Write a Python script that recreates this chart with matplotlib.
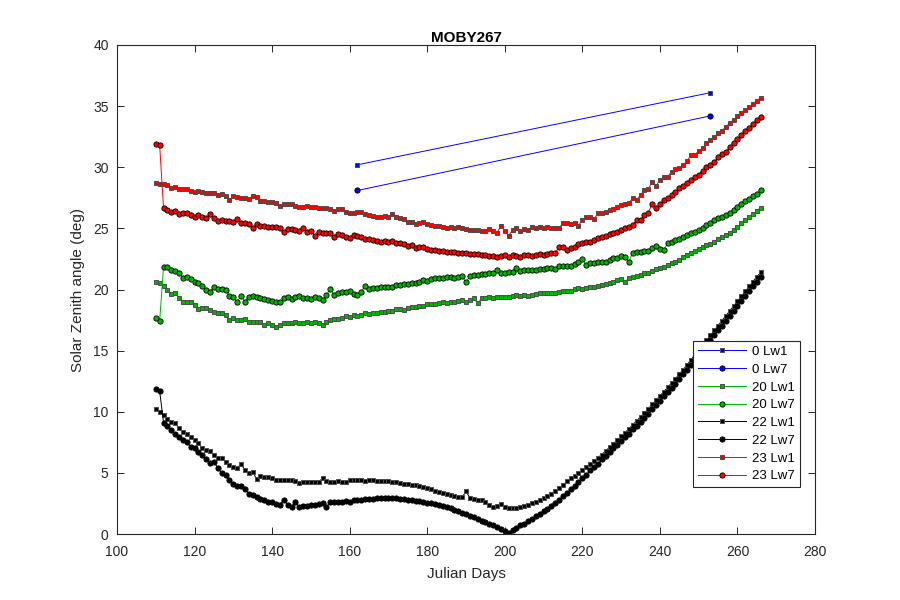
import numpy as np
import matplotlib
matplotlib.use("Agg")
import matplotlib.pyplot as plt

plt.rcParams['font.family'] = ['Liberation Sans', 'DejaVu Sans']

# ---------------- data ----------------
days = list(range(110, 267))

blue_days = [162, 253]
blue_lw1 = [30.2, 36.1]
blue_lw7 = [28.1, 34.2]

green_lw1 = [
    20.64, 20.50, 20.32, 19.96, 19.60, 19.74, 19.28, 19.00, 19.00, 19.00,
    18.73, 18.38, 18.46, 18.46, 18.32, 18.19, 18.05, 18.05, 17.91, 17.50,
    17.64, 17.50, 17.50, 17.59, 17.37, 17.37, 17.37, 17.37, 17.10, 17.23,
    17.10, 16.90, 17.10, 17.29, 17.29, 17.29, 17.37, 17.29, 17.29, 17.37,
    17.23, 17.37, 17.23, 17.10, 17.37, 17.50, 17.59, 17.59, 17.70, 17.83,
    17.78, 17.91, 17.83, 17.91, 18.05, 18.00, 18.05, 18.10, 18.19, 18.19,
    18.24, 18.27, 18.38, 18.38, 18.32, 18.46, 18.60, 18.54, 18.68, 18.68,
    18.79, 18.81, 18.79, 18.87, 19.00, 18.92, 19.00, 18.95, 19.09, 19.14,
    19.00, 19.14, 19.28, 18.87, 19.28, 19.28, 19.41, 19.28, 19.36, 19.41,
    19.41, 19.41, 19.47, 19.55, 19.47, 19.55, 19.47, 19.55, 19.60, 19.69,
    19.69, 19.69, 19.74, 19.74, 19.82, 19.90, 19.90, 19.90, 20.01, 20.10,
    20.01, 20.10, 20.18, 20.23, 20.29, 20.37, 20.45, 20.56, 20.64, 20.78,
    20.83, 20.64, 20.91, 21.00, 21.13, 21.19, 21.32, 21.38, 21.54, 21.65,
    21.73, 21.87, 22.00, 22.14, 22.28, 22.41, 22.69, 22.82, 22.96, 23.18,
    23.29, 23.50, 23.64, 23.72, 23.91, 24.10, 24.32, 24.46, 24.65, 24.87,
    25.14, 25.40, 25.65, 25.90, 26.15, 26.45, 26.70]

green_lw7 = [
    17.70, 17.40, 21.87, 21.87, 21.60, 21.52, 21.38, 20.92, 21.06, 20.83,
    20.64, 20.50, 20.32, 19.96, 19.82, 20.23, 20.01, 20.04, 19.96, 19.47,
    19.36, 19.00, 19.50, 19.00, 19.41, 19.50, 19.36, 19.27, 19.19, 19.14,
    19.06, 18.95, 18.95, 19.27, 19.41, 19.22, 19.41, 19.50, 19.33, 19.33,
    19.22, 19.41, 19.33, 19.14, 19.55, 20.04, 19.55, 19.69, 19.77, 19.82,
    19.88, 19.63, 19.55, 19.82, 20.29, 20.01, 20.10, 20.10, 20.18, 20.18,
    20.18, 20.23, 20.37, 20.37, 20.42, 20.45, 20.50, 20.56, 20.59, 20.78,
    20.72, 20.83, 20.91, 20.91, 20.97, 21.00, 21.05, 20.91, 21.05, 21.10,
    20.59, 21.10, 21.19, 21.19, 21.24, 21.24, 21.32, 21.32, 21.60, 21.38,
    21.32, 21.40, 21.46, 21.79, 21.54, 21.60, 21.60, 21.60, 21.60, 21.65,
    21.68, 21.73, 21.73, 21.65, 21.92, 21.92, 21.92, 21.92, 22.09, 22.28,
    22.49, 22.00, 22.14, 22.20, 22.28, 22.28, 22.28, 22.41, 22.55, 22.55,
    22.77, 22.63, 22.28, 23.01, 23.10, 23.10, 23.15, 23.18, 23.37, 23.59,
    23.29, 23.23, 23.78, 23.91, 24.05, 24.13, 24.27, 24.46, 24.59, 24.73,
    24.87, 25.00, 25.28, 25.41, 25.69, 25.82, 25.96, 26.10, 26.29, 26.50,
    26.72, 26.99, 27.20, 27.40, 27.65, 27.85, 28.10]

black_lw1 = [
    10.20, 10.00, 9.73, 9.40, 9.19, 9.05, 8.64, 8.37, 8.18, 7.96,
    7.69, 7.42, 7.01, 6.87, 6.79, 6.46, 6.19, 6.19, 5.92, 5.64,
    5.51, 5.43, 5.70, 5.24, 5.02, 5.10, 4.47, 4.74, 4.69, 4.64,
    4.55, 4.42, 4.42, 4.45, 4.42, 4.42, 4.36, 4.20, 4.28, 4.23,
    4.23, 4.23, 4.28, 4.55, 4.36, 4.28, 4.28, 4.36, 4.28, 4.28,
    4.38, 4.40, 4.38, 4.40, 4.36, 4.40, 4.38, 4.36, 4.33, 4.33,
    4.30, 4.28, 4.25, 4.20, 4.10, 4.05, 4.00, 4.00, 3.90, 3.85,
    3.75, 3.65, 3.50, 3.40, 3.35, 3.30, 3.20, 3.10, 3.05, 3.00,
    3.50, 2.95, 2.85, 2.80, 2.75, 2.60, 2.40, 2.20, 2.30, 2.45,
    2.20, 2.10, 2.10, 2.15, 2.20, 2.30, 2.40, 2.50, 2.65, 2.80,
    2.95, 3.10, 3.30, 3.50, 3.75, 4.00, 4.30, 4.55, 4.75, 4.95,
    5.20, 5.45, 5.70, 5.95, 6.25, 6.50, 6.80, 7.10, 7.40, 7.70,
    8.00, 8.30, 8.60, 8.95, 9.25, 9.60, 9.90, 10.25, 10.60, 10.95,
    11.30, 11.65, 12.00, 12.35, 12.70, 13.10, 13.45, 13.85, 14.25, 14.65,
    15.05, 15.45, 15.85, 16.25, 16.65, 17.05, 17.45, 17.85, 18.25, 18.65,
    19.05, 19.45, 19.85, 20.25, 20.65, 21.05, 21.40]

black_lw7 = [
    11.86, 11.70, 9.10, 8.80, 8.50, 8.15, 7.96, 7.70, 7.50, 7.10,
    7.00, 6.70, 6.46, 6.10, 5.80, 5.90, 5.40, 4.96, 4.80, 4.40,
    4.10, 3.90, 3.90, 3.65, 3.27, 3.20, 3.05, 2.90, 2.80, 2.60,
    2.60, 2.45, 2.40, 2.80, 2.40, 2.20, 2.60, 2.20, 2.30, 2.30,
    2.40, 2.40, 2.45, 2.50, 2.20, 2.60, 2.60, 2.60, 2.60, 2.70,
    2.65, 2.75, 2.80, 2.82, 2.85, 2.88, 2.90, 2.92, 2.95, 2.97,
    2.97, 2.95, 2.93, 2.90, 2.87, 2.82, 2.78, 2.73, 2.68, 2.62,
    2.57, 2.52, 2.47, 2.40, 2.30, 2.20, 2.10, 1.97, 1.85, 1.72,
    1.60, 1.47, 1.35, 1.22, 1.10, 0.97, 0.83, 0.70, 0.56, 0.42,
    0.25, 0.12, 0.30, 0.50, 0.70, 0.85, 1.05, 1.25, 1.45, 1.65,
    1.85, 2.05, 2.30, 2.55, 2.80, 3.10, 3.35, 3.65, 3.95, 4.25,
    4.60, 4.85, 5.20, 5.45, 5.75, 6.10, 6.40, 6.70, 7.00, 7.30,
    7.60, 7.90, 8.20, 8.55, 8.85, 9.20, 9.50, 9.85, 10.20, 10.55,
    10.90, 11.25, 11.60, 11.95, 12.30, 12.70, 13.05, 13.45, 13.85, 14.25,
    14.65, 15.05, 15.45, 15.85, 16.25, 16.65, 17.05, 17.45, 17.85, 18.25,
    18.65, 19.05, 19.45, 19.85, 20.25, 20.65, 21.00]

red_lw1 = [
    28.70, 28.63, 28.63, 28.55, 28.28, 28.36, 28.19, 28.19, 28.19, 28.05,
    27.95, 28.05, 27.95, 27.92, 27.87, 27.92, 27.73, 27.81, 27.65, 27.32,
    27.65, 27.60, 27.50, 27.50, 27.40, 27.68, 27.60, 27.24, 27.24, 27.19,
    27.19, 27.10, 26.83, 27.00, 27.00, 26.97, 26.83, 26.78, 26.78, 26.86,
    26.72, 26.78, 26.70, 26.70, 26.70, 26.60, 26.43, 26.60, 26.60, 26.37,
    26.29, 26.29, 26.35, 26.37, 26.18, 26.10, 26.01, 25.90, 25.90, 26.01,
    25.90, 26.18, 25.96, 25.82, 25.74, 25.55, 25.55, 25.36, 25.41, 25.50,
    25.36, 25.28, 25.22, 25.19, 25.14, 25.00, 25.14, 25.00, 25.14, 25.00,
    24.92, 24.87, 24.87, 24.87, 24.81, 24.81, 24.92, 24.81, 24.65, 25.20,
    24.79, 24.40, 24.87, 25.00, 24.79, 24.92, 24.87, 25.09, 25.00, 25.14,
    25.00, 25.09, 25.00, 25.00, 25.00, 25.47, 25.47, 25.36, 25.47, 25.22,
    25.69, 25.90, 25.96, 25.74, 26.23, 26.29, 26.37, 26.50, 26.56, 26.78,
    26.91, 26.99, 27.10, 27.46, 27.32, 27.73, 28.14, 28.19, 28.82, 28.47,
    28.96, 29.23, 29.23, 29.64, 29.83, 29.91, 30.18, 30.51, 31.00, 31.00,
    31.36, 31.55, 31.96, 32.23, 32.45, 32.77, 32.99, 33.32, 33.59, 33.87,
    34.20, 34.45, 34.70, 34.95, 35.20, 35.45, 35.70]

red_lw7 = [
    31.90, 31.80, 26.64, 26.50, 26.37, 26.42, 26.15, 26.29, 26.23, 26.10,
    25.90, 26.10, 25.96, 25.82, 26.18, 25.82, 25.60, 25.69, 25.63, 25.60,
    25.50, 25.77, 25.41, 25.41, 25.36, 25.06, 25.36, 25.22, 25.22, 25.14,
    25.14, 25.09, 25.00, 24.68, 24.95, 24.95, 24.87, 24.81, 25.00, 24.68,
    24.81, 24.40, 24.68, 24.60, 24.60, 24.60, 24.32, 24.51, 24.46, 24.32,
    24.19, 24.46, 24.38, 24.30, 24.13, 24.10, 24.05, 23.97, 23.86, 23.97,
    23.91, 23.99, 23.83, 23.78, 23.72, 23.56, 23.64, 23.37, 23.45, 23.45,
    23.29, 23.23, 23.23, 23.18, 23.18, 23.10, 23.04, 23.04, 22.96, 22.96,
    22.96, 22.90, 22.88, 22.88, 22.82, 22.82, 22.77, 22.74, 22.63, 22.74,
    22.82, 22.69, 22.82, 22.77, 22.69, 22.82, 22.82, 22.74, 22.82, 22.88,
    22.82, 22.90, 22.96, 23.01, 23.45, 23.45, 23.23, 23.37, 23.50, 23.72,
    23.78, 23.91, 23.91, 24.05, 24.19, 24.32, 24.38, 24.54, 24.65, 24.73,
    24.87, 25.00, 25.14, 25.28, 25.69, 25.69, 26.10, 26.29, 26.99, 26.64,
    26.99, 27.32, 27.46, 27.73, 28.00, 28.28, 28.47, 28.68, 28.96, 29.17,
    29.37, 29.72, 29.99, 30.20, 30.46, 30.81, 31.08, 31.28, 31.68, 31.96,
    32.28, 32.64, 32.95, 33.25, 33.55, 33.85, 34.15]

labels = ['0 Lw1', '0 Lw7', '20 Lw1', '20 Lw7', '22 Lw1', '22 Lw7', '23 Lw1', '23 Lw7']

# ---------------- drawing ----------------
dark = (0.15, 0.15, 0.15)
fig = plt.figure(figsize=(9, 6), dpi=100)
ax = fig.add_axes([0.13, 0.11, 0.7756, 0.815])

BLUE = (0, 0, 1)
GREEN = (0, 0.7, 0)
BLACK = (0, 0, 0)
RED = (1, 0, 0)

def lw1(x, y, c, lab):
    return ax.plot(x, y, color=c, lw=0.7, marker='s', ms=3.5, mfc=c,
                   mec=(0.3, 0.3, 0.3), mew=0.7, label=lab)[0]

def lw7(x, y, c, lab):
    return ax.plot(x, y, color=c, lw=0.7, marker='o', ms=3.8, mfc=c,
                   mec='k', mew=0.6, label=lab)[0]

lw1(blue_days, blue_lw1, BLUE, labels[0])
lw7(blue_days, blue_lw7, BLUE, labels[1])
lw1(days, green_lw1, GREEN, labels[2])
lw7(days, green_lw7, GREEN, labels[3])
lw1(days, black_lw1, BLACK, labels[4])
lw7(days, black_lw7, BLACK, labels[5])
lw1(days, red_lw1, RED, labels[6])
lw7(days, red_lw7, RED, labels[7])

ax.set_xlim(100, 280)
ax.set_ylim(0, 40)
ax.set_xticks(np.arange(100, 281, 20))
ax.set_yticks(np.arange(0, 41, 5))
ax.tick_params(direction='in', top=True, right=True, length=5, width=0.7,
               colors=dark, labelsize=10)
ax.tick_params(axis='x', pad=8)
ax.tick_params(axis='y', pad=6)
for s in ax.spines.values():
    s.set_color(dark)
    s.set_linewidth(0.8)

ax.set_title('MOBY267', fontsize=11, fontweight='bold', color='black', pad=2)
ax.set_xlabel('Julian Days', fontsize=11, color=dark, labelpad=6)
ax.set_ylabel('Solar Zenith angle (deg)', fontsize=11, color=dark, labelpad=6)

leg = ax.legend(loc='lower right', bbox_to_anchor=(0.978, 0.096), fontsize=9.5,
                frameon=True, fancybox=False, framealpha=1, edgecolor=dark,
                handlelength=3.6, labelspacing=0.42, borderpad=0.35,
                handletextpad=0.5, borderaxespad=0)
leg.get_frame().set_linewidth(0.8)

fig.savefig('out.png', dpi=100)
